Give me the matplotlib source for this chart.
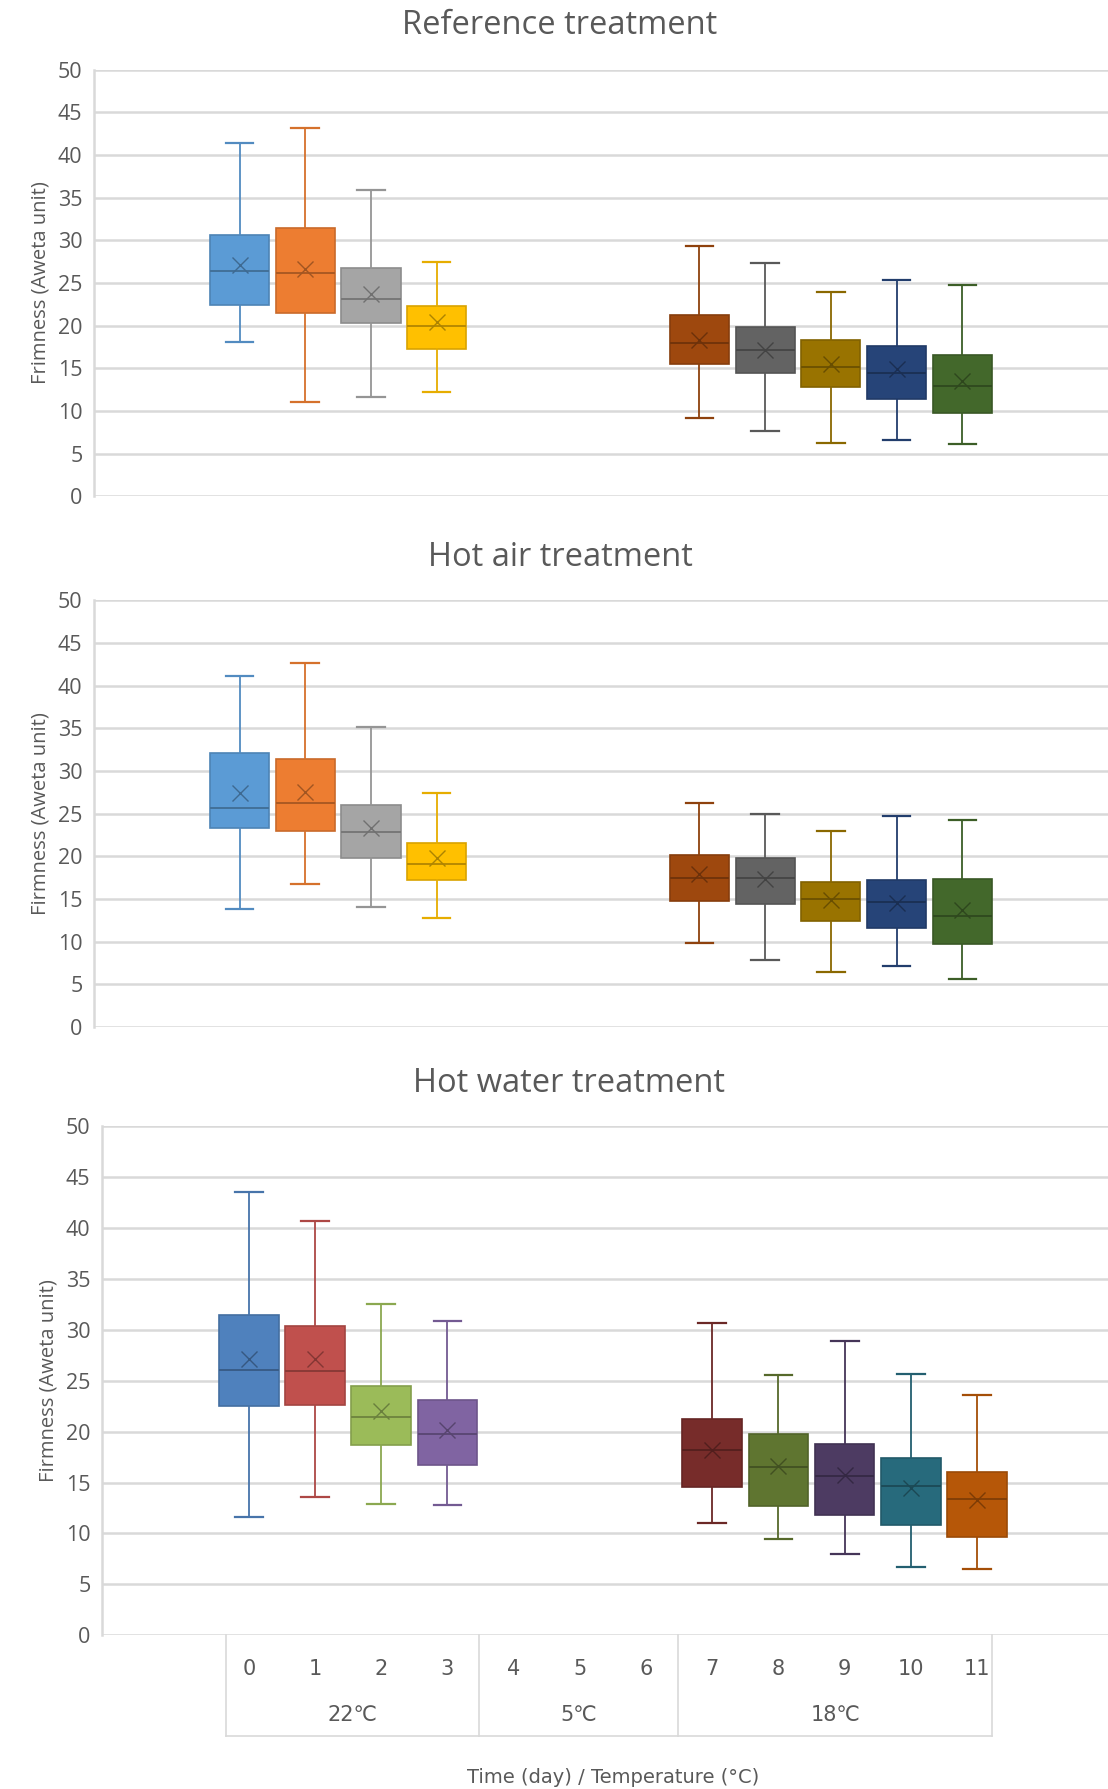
import matplotlib
matplotlib.use("Agg")
import matplotlib.pyplot as plt
import matplotlib.transforms as mtransforms
import numpy as np

plt.rcParams['font.family'] = ['Open Sans', 'DejaVu Sans']

# days that carry a box in every panel
days = [0, 1, 2, 3, 7, 8, 9, 10, 11]
day_labels = [str(d) for d in range(12)]
temp_labels = ['22℃', '5℃', '18℃']

# Reference treatment
ref_low = [18.1, 11.1, 11.7, 12.2, 9.2, 7.7, 6.2, 6.6, 6.1]
ref_q1 = [22.4, 21.5, 20.3, 17.3, 15.5, 14.5, 12.8, 11.4, 9.8]
ref_med = [26.4, 26.2, 23.1, 20.0, 18.0, 17.2, 15.2, 14.5, 12.9]
ref_q3 = [30.6, 31.4, 26.8, 22.3, 21.3, 19.9, 18.3, 17.6, 16.6]
ref_high = [41.4, 43.1, 35.9, 27.5, 29.3, 27.3, 23.9, 25.3, 24.8]
ref_mean = [27.1, 26.6, 23.7, 20.4, 18.3, 17.1, 15.5, 14.9, 13.5]

# Hot air treatment
air_low = [13.8, 16.8, 14.1, 12.8, 9.8, 7.9, 6.5, 7.2, 5.6]
air_q1 = [23.3, 23.0, 19.8, 17.2, 14.8, 14.4, 12.4, 11.6, 9.7]
air_med = [25.6, 26.3, 22.9, 19.1, 17.5, 17.4, 15.0, 14.6, 13.0]
air_q3 = [32.1, 31.4, 26.0, 21.5, 20.1, 19.8, 17.0, 17.2, 17.3]
air_high = [41.1, 42.6, 35.1, 27.4, 26.2, 25.0, 23.0, 24.7, 24.2]
air_mean = [27.4, 27.5, 23.3, 19.8, 17.9, 17.3, 14.9, 14.5, 13.7]

# Hot water treatment
wat_low = [11.6, 13.6, 12.9, 12.8, 11.0, 9.5, 8.0, 6.7, 6.5]
wat_q1 = [22.5, 22.6, 18.7, 16.7, 14.6, 12.7, 11.8, 10.8, 9.6]
wat_med = [26.1, 26.0, 21.4, 19.8, 18.2, 16.5, 15.6, 14.7, 13.4]
wat_q3 = [31.5, 30.4, 24.5, 23.1, 21.2, 19.8, 18.8, 17.4, 16.0]
wat_high = [43.5, 40.7, 32.5, 30.9, 30.7, 25.6, 28.9, 25.7, 23.6]
wat_mean = [27.1, 27.1, 22.0, 20.2, 18.2, 16.6, 15.7, 14.5, 13.3]

office_colors = ['#5B9BD5', '#ED7D31', '#A5A5A5', '#FFC000',
                 '#9E480E', '#636363', '#997300', '#264478', '#43682B']
classic_colors = ['#4F81BD', '#C0504D', '#9BBB59', '#8064A2',
                  '#772C2A', '#5F7530', '#4D3B62', '#276A7C', '#B65708']

TEXT = '#595959'
GRID = '#D9D9D9'
NARROW = ['Liberation Sans Narrow', 'DejaVu Sans']


def darker(c, f):
    rgb = np.array(matplotlib.colors.to_rgb(c))
    return tuple(rgb * f)


def draw_panel(ax, ylabel, low, q1, med, q3, high, mean, colors):
    for i in range(len(days)):
        st = dict(whislo=low[i], q1=q1[i], med=med[i], q3=q3[i],
                  whishi=high[i], mean=mean[i], fliers=[])
        c = colors[i]
        ax.bxp([st], positions=[days[i]], widths=0.9, capwidths=0.42,
               showmeans=True, patch_artist=True,
               boxprops=dict(facecolor=c, edgecolor=darker(c, 0.85), linewidth=1.2),
               whiskerprops=dict(color=darker(c, 0.9), linewidth=1.3),
               capprops=dict(color=darker(c, 0.9), linewidth=1.6),
               medianprops=dict(color=darker(c, 0.72), linewidth=1.4),
               meanprops=dict(marker='x', markersize=12, markeredgewidth=1.0,
                              markeredgecolor=darker(c, 0.68)),
               zorder=3)
    ax.set_ylim(0, 50)
    ax.set_yticks(np.arange(0, 51, 5))
    ax.yaxis.grid(True, color=GRID, linewidth=1.8, zorder=0)
    ax.set_axisbelow(True)
    for s in ['top', 'right', 'bottom']:
        ax.spines[s].set_visible(False)
    ax.spines['left'].set_color(GRID)
    ax.spines['left'].set_linewidth(1.8)
    ax.tick_params(axis='y', length=0, labelsize=15.5, labelcolor=TEXT, pad=8)
    ax.tick_params(axis='x', length=0)
    ax.set_ylabel(ylabel, fontsize=14.5, color=TEXT, labelpad=5)


fig = plt.figure(figsize=(11.08, 17.89), dpi=100)
W, H = 1108.0, 1789.0

ax1 = fig.add_axes([93.6 / W, 1 - 496.4 / H, (1108 - 93.6) / W, 426.8 / H])
ax2 = fig.add_axes([93.6 / W, 1 - 1027.0 / H, (1108 - 93.6) / W, 426.8 / H])
ax3 = fig.add_axes([101.6 / W, 1 - 1635.2 / H, (1108 - 101.6) / W, 508.9 / H])

draw_panel(ax1, 'Frimness (Aweta unit)',
           ref_low, ref_q1, ref_med, ref_q3, ref_high, ref_mean, office_colors)
draw_panel(ax2, 'Firmness (Aweta unit)',
           air_low, air_q1, air_med, air_q3, air_high, air_mean, office_colors)
draw_panel(ax3, 'Firmness (Aweta unit)',
           wat_low, wat_q1, wat_med, wat_q3, wat_high, wat_mean, classic_colors)

for ax in (ax1, ax2):
    ax.set_xlim(-2.222, (1108 - 239.6) / 65.7)
    ax.set_xticks([])
ax3.set_xlim(-2.224, (1108 - 248.8) / 66.2)

# chart titles, placed in figure pixels
for txt, x, y in [('Reference treatment', 560, 25), ('Hot air treatment', 560, 557),
                  ('Hot water treatment', 569, 1083)]:
    fig.text(x / W, 1 - y / H, txt, fontsize=23.5, color=TEXT, ha='center', va='center')

# multi-level category axis for the bottom panel
ax3.set_xticks(range(12))
ax3.set_xticklabels(day_labels, family=NARROW, fontsize=15, color=TEXT)
ax3.tick_params(axis='x', pad=17)
tr = mtransforms.blended_transform_factory(ax3.transData, ax3.transAxes)
tab_bot = -100.8 / 508.9
edges = [-0.34, 3.48, 6.49, 11.23]
for e in edges:
    ax3.plot([e, e], [0, tab_bot], color=GRID, lw=1.2, transform=tr, clip_on=False)
ax3.plot([edges[0], edges[-1]], [tab_bot, tab_bot], color=GRID, lw=1.2,
         transform=tr, clip_on=False)
for i, lab in enumerate(temp_labels):
    mid = (edges[i] + edges[i + 1]) / 2
    ax3.text(mid, -80 / 508.9, lab, transform=tr, ha='center', va='center',
             fontsize=15, color=TEXT, family=NARROW)
ax3.text(5.5, -142 / 508.9, 'Time (day) / Temperature (°C)', transform=tr,
         ha='center', va='center', fontsize=14, color=TEXT, family=NARROW)

fig.savefig('out.png', dpi=100, facecolor='white')
